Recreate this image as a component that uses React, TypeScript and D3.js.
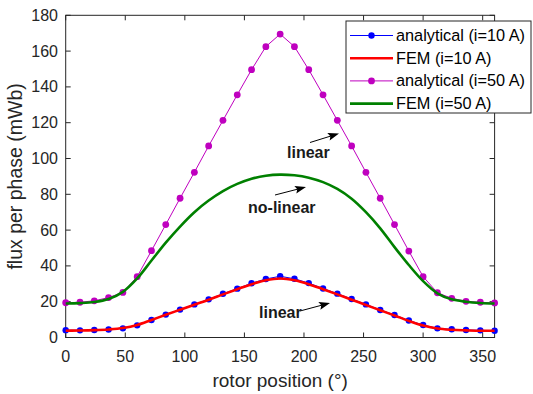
import React from "react";
import * as d3 from "d3";

const angles = d3.range(0, 361, 12);
const analytical10 = [4.1, 4.0, 4.2, 4.5, 5.1, 6.8, 9.8, 12.8, 15.6, 18.5, 21.3, 24.4, 27.3, 30.3, 32.7, 34.2, 32.8, 30.4, 27.4, 24.5, 21.5, 18.5, 15.4, 12.6, 9.5, 7.0, 5.1, 4.6, 4.2, 4.0, 3.8];
const fem10 = [3.8, 3.9, 4.1, 4.5, 5.3, 7.0, 9.8, 12.7, 15.5, 18.3, 21.1, 24.1, 27.0, 29.8, 32.0, 33.0, 32.0, 29.8, 27.0, 24.1, 21.1, 18.2, 15.2, 12.3, 9.3, 6.7, 5.0, 4.3, 4.0, 3.8, 3.8];
const analytical50 = [19.4, 19.7, 20.5, 22.3, 25.2, 34, 48.5, 63.1, 77.8, 92.3, 107, 121.3, 135.6, 149.6, 162.5, 169.5, 162.5, 149.6, 135.6, 121.3, 107, 92.3, 77.8, 63.1, 48.3, 34, 25, 21.9, 20.2, 19.7, 19.3];
const fem50 = [19.0, 19.2, 19.8, 21.5, 25.5, 33, 43, 53, 62, 70, 76.5, 81.8, 85.8, 88.7, 90.4, 91, 90.6, 89.3, 86.8, 83, 77.5, 70, 61, 50.5, 40.5, 31.5, 24.7, 21.3, 20, 19.3, 19.0];
const xTicks = [0, 50, 100, 150, 200, 250, 300, 350];
const yTicks = [0, 20, 40, 60, 80, 100, 120, 140, 160, 180];
const legendLabels = ["analytical (i=10 A)", "FEM (i=10 A)", "analytical (i=50 A)", "FEM (i=50 A)"];

const W = 533, H = 394;
const L = 65.7, R = 494.6, T = 15.3, B = 337.5;
const font = "'Liberation Sans', Arial, sans-serif";
const axisColor = "#262626";

export default function App() {
  const x = d3.scaleLinear().domain([0, 360]).range([L, R]);
  const y = d3.scaleLinear().domain([0, 180]).range([B, T]);
  const mk = (vals: number[], curve: any) =>
    d3.line<number>().x((_, i) => x(angles[i])).y((v) => y(v)).curve(curve)(vals) || "";

  const series = [
    { vals: analytical10, color: "#0000ff", w: 1, markers: true, r: 3.2, curve: d3.curveLinear },
    { vals: fem10, color: "#ff0000", w: 2.6, markers: false, r: 0, curve: d3.curveMonotoneX },
    { vals: analytical50, color: "#bf00bf", w: 1, markers: true, r: 3.4, curve: d3.curveLinear },
    { vals: fem50, color: "#008000", w: 2.6, markers: false, r: 0, curve: d3.curveCatmullRom },
  ];

  const arrows = [
    { x1: 310, y1: 142.5, x2: 339, y2: 133.5 },
    { x1: 275, y1: 195, x2: 306, y2: 187 },
    { x1: 300, y1: 311, x2: 330, y2: 303 },
  ];

  const arrowHead = (a: any) => {
    const ang = Math.atan2(a.y2 - a.y1, a.x2 - a.x1);
    const len = 11, half = 4;
    const bx = a.x2 - len * Math.cos(ang), by = a.y2 - len * Math.sin(ang);
    const px = -Math.sin(ang) * half, py = Math.cos(ang) * half;
    return `M${a.x2},${a.y2}L${bx + px},${by + py}L${bx + 2 * Math.cos(ang)},${by + 2 * Math.sin(ang)}L${bx - px},${by - py}Z`;
  };

  const legX = 346, legY = 21, legW = 185, legH = 92;
  const rowY = (i: number) => legY + 14.5 + i * 22.7;

  return (
    <svg width={W} height={H} style={{ position: "absolute", left: 0, top: 0, background: "#fff" }} fontFamily={font}>
      <rect x={0} y={0} width={W} height={H} fill="#fff" />
      {xTicks.map((t) => (
        <g key={"xt" + t}>
          <line x1={x(t)} x2={x(t)} y1={B} y2={B - 5} stroke={axisColor} />
          <line x1={x(t)} x2={x(t)} y1={T} y2={T + 5} stroke={axisColor} />
          <text x={x(t)} y={362} fontSize={16} textAnchor="middle" fill={axisColor}>{t}</text>
        </g>
      ))}
      {yTicks.map((t) => (
        <g key={"yt" + t}>
          <line x1={L} x2={L + 5} y1={y(t)} y2={y(t)} stroke={axisColor} />
          <line x1={R} x2={R - 5} y1={y(t)} y2={y(t)} stroke={axisColor} />
          <text x={58} y={y(t) + 5.5} fontSize={16} textAnchor="end" fill={axisColor}>{t}</text>
        </g>
      ))}
      <rect x={L} y={T} width={R - L} height={B - T} fill="none" stroke={axisColor} strokeWidth={1} />
      <text x={(L + R) / 2} y={387} fontSize={19} textAnchor="middle" fill={axisColor}>rotor position (°)</text>
      <text transform={`translate(22,${(T + B) / 2}) rotate(-90)`} fontSize={19.5} textAnchor="middle" fill={axisColor}>flux per phase (mWb)</text>

      {series.map((s, si) => (
        <g key={"s" + si}>
          <path d={mk(s.vals, s.curve)} fill="none" stroke={s.color} strokeWidth={s.w} strokeLinejoin="round" />
          {s.markers && s.vals.map((v, i) => (
            <circle key={i} cx={x(angles[i])} cy={y(v)} r={s.r} fill={s.color} />
          ))}
        </g>
      ))}

      {arrows.map((a, i) => {
        const ang = Math.atan2(a.y2 - a.y1, a.x2 - a.x1);
        return (
          <g key={"a" + i}>
            <line x1={a.x1} y1={a.y1} x2={a.x2 - 6 * Math.cos(ang)} y2={a.y2 - 6 * Math.sin(ang)} stroke="#000" strokeWidth={1} />
            <path d={arrowHead(a)} fill="#000" />
          </g>
        );
      })}
      <text x={287} y={158} fontSize={16} fontWeight="bold" fill="#1a1a1a">linear</text>
      <text x={248} y={213} fontSize={16} fontWeight="bold" fill="#1a1a1a">no-linear</text>
      <text x={259} y={318} fontSize={16} fontWeight="bold" fill="#1a1a1a">linear</text>

      <rect x={legX} y={legY} width={legW} height={legH} fill="#fff" stroke={axisColor} strokeWidth={1} />
      {series.map((s, i) => (
        <g key={"l" + i}>
          <line x1={350} x2={393} y1={rowY(i)} y2={rowY(i)} stroke={s.color} strokeWidth={s.w} />
          {s.markers && <circle cx={371.5} cy={rowY(i)} r={s.r} fill={s.color} />}
          <text x={396} y={rowY(i) + 5.5} fontSize={16.3} fill="#000">{legendLabels[i]}</text>
        </g>
      ))}
    </svg>
  );
}
